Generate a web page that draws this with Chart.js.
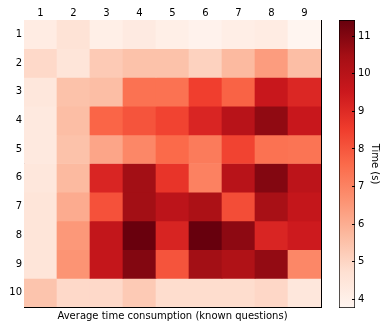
<!DOCTYPE html>
<html>
<head>
<meta charset="utf-8">
<script src="https://cdn.jsdelivr.net/npm/chart.js@4.4.1/dist/chart.umd.min.js"></script>
<style>
  html, body { margin: 0; padding: 0; background: #fff; }
  #wrap { position: relative; width: 381px; height: 323px; }
  #heat { position: absolute; left: 0; top: 0; }
  #cbar { position: absolute; left: 330px; top: 0; }
</style>
</head>
<body>
<div id="wrap">
  <canvas id="heat" width="381" height="323"></canvas>
  <canvas id="cbar" width="51" height="323"></canvas>
</div>
<script>
// Column and row labels of the grid
const columns = ['1', '2', '3', '4', '5', '6', '7', '8', '9'];
const rows = ['1', '2', '3', '4', '5', '6', '7', '8', '9', '10'];

// Average time (s) per cell, one array per row
const row1  = [4.2, 4.6, 4.05, 4.25, 4.05, 3.9, 4.1, 4.2, 3.77];
const row2  = [4.9, 4.5, 5.3, 5.5, 5.5, 5.1, 5.7, 6.4, 5.6];
const row3  = [4.4, 5.5, 5.6, 7.4, 7.4, 8.5, 7.75, 9.6, 9.1];
const row4  = [4.3, 5.6, 7.7, 8.05, 8.4, 9.15, 10.0, 10.8, 9.6];
const row5  = [4.3, 5.5, 6.2, 6.9, 7.6, 7.2, 8.4, 7.4, 7.35];
const row6  = [4.4, 5.7, 9.15, 10.5, 8.75, 7.05, 10.0, 11.0, 9.9];
const row7  = [4.5, 6.05, 8.1, 10.5, 9.9, 10.3, 8.2, 10.4, 9.7];
const row8  = [4.5, 6.5, 9.75, 11.4, 9.2, 11.43, 10.85, 9.15, 9.45];
const row9  = [4.5, 6.6, 9.7, 11.0, 8.05, 10.5, 10.2, 10.75, 6.9];
const row10 = [5.45, 4.9, 4.9, 5.3, 4.8, 4.8, 4.8, 4.95, 4.4];
const timeRows = [row1, row2, row3, row4, row5, row6, row7, row8, row9, row10];

// Colour bar tick values
const barTicks = [4, 5, 6, 7, 8, 9, 10, 11];

const allValues = timeRows.flat();
const vmin = Math.min(...allValues);
const vmax = Math.max(...allValues);

// Sequential "Reds" colour ramp
const reds = [
  [255, 245, 240], [254, 224, 210], [252, 187, 161], [252, 146, 114],
  [251, 106, 74], [239, 59, 44], [203, 24, 29], [165, 15, 21], [103, 0, 13]
];
function redsAt(t) {
  t = Math.max(0, Math.min(1, t));
  const p = t * (reds.length - 1);
  const i = Math.min(reds.length - 2, Math.floor(p));
  const f = p - i;
  const a = reds[i], b = reds[i + 1];
  const c = a.map((v, k) => Math.round(v + (b[k] - v) * f));
  return `rgb(${c[0]},${c[1]},${c[2]})`;
}
const colorFor = v => redsAt((v - vmin) / (vmax - vmin));

const font = { family: 'DejaVu Sans', size: 10 };
const ink = '#000';

// Heat map: each row is a dataset of floating bars spanning [row, row + 1]
const datasets = timeRows.map((vals, r) => ({
  label: rows[r],
  data: vals.map(() => [r, r + 1]),
  backgroundColor: vals.map(colorFor),
  borderWidth: 0,
  grouped: false,
  barPercentage: 1,
  categoryPercentage: 1,
  xAxisID: 'x',
  yAxisID: 'y'
}));

new Chart(document.getElementById('heat'), {
  type: 'bar',
  data: { labels: columns, datasets },
  options: {
    responsive: false,
    animation: false,
    events: [],
    layout: { padding: 0 },
    plugins: { legend: { display: false }, tooltip: { enabled: false } },
    scales: {
      x: {
        type: 'category', position: 'top', offset: true,
        grid: { display: false, drawTicks: false },
        border: { display: true, color: ink, width: 1 },
        ticks: { color: ink, font, padding: 1, autoSkip: false, maxRotation: 0 },
        afterFit: s => { s.height = 20; }
      },
      xb: {
        type: 'category', position: 'bottom', offset: true,
        grid: { display: false, drawTicks: false },
        border: { display: true, color: ink, width: 1 },
        ticks: { display: false },
        title: {
          display: true, text: 'Average time consumption (known questions)',
          color: ink, font, padding: { top: 0, bottom: 1 }
        },
        afterFit: s => { s.height = 16; }
      },
      y: {
        type: 'linear', position: 'left', reverse: true, min: 0, max: rows.length,
        grid: { display: false, drawTicks: false },
        border: { display: true, color: ink, width: 1 },
        afterBuildTicks: s => { s.ticks = rows.map((_, i) => ({ value: i + 0.5 })); },
        ticks: { color: ink, font, padding: 2, autoSkip: false, callback: (v, i) => rows[i] },
        afterFit: s => { s.width = 24; }
      },
      yr: {
        type: 'linear', position: 'right', min: 0, max: rows.length,
        grid: { display: false, drawTicks: false },
        border: { display: true, color: ink, width: 1 },
        ticks: { display: false },
        afterFit: s => { s.width = 60; }
      }
    }
  }
});

// Colour bar: one floating bar from vmin to vmax filled with the ramp
new Chart(document.getElementById('cbar'), {
  type: 'bar',
  data: {
    labels: [''],
    datasets: [{
      data: [[vmin, vmax]],
      backgroundColor: ctx => {
        const area = ctx.chart.chartArea;
        if (!area) return redsAt(0.5);
        const g = ctx.chart.ctx.createLinearGradient(0, area.bottom, 0, area.top);
        reds.forEach((_, i) => g.addColorStop(i / (reds.length - 1), redsAt(i / (reds.length - 1))));
        return g;
      },
      borderColor: ink,
      borderWidth: 1,
      borderSkipped: false,
      barPercentage: 1,
      categoryPercentage: 1
    }]
  },
  options: {
    responsive: false,
    animation: false,
    events: [],
    layout: { padding: { left: 9, top: 20, bottom: 15, right: 0 } },
    plugins: { legend: { display: false }, tooltip: { enabled: false } },
    scales: {
      x: { display: false },
      y: {
        type: 'linear', position: 'right', min: vmin, max: vmax,
        afterBuildTicks: s => { s.ticks = barTicks.map(v => ({ value: v })); },
        // inward tick marks on the right edge of the bar
        grid: { display: true, drawOnChartArea: false, drawTicks: true, tickLength: -3, color: ink, z: 1 },
        border: { display: false },
        ticks: { color: ink, font, padding: 6 },
        title: { display: true, text: 'Time (s)', color: ink, font, padding: { top: 0, bottom: 0 } },
        afterFit: s => { s.width = 26; }
      }
    }
  }
});
</script>
</body>
</html>
